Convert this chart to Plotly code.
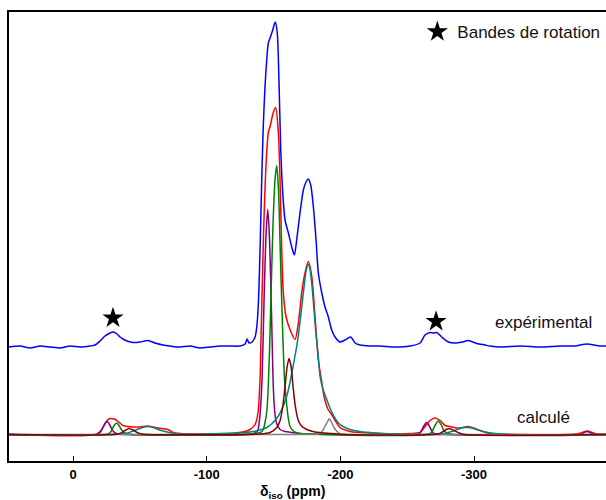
import plotly.graph_objects as go

# ---------------- data (δiso in ppm, intensity in arbitrary units) ----------------
exp_ppm = [47.9, 39.6, 32.2, 24.7, 17.2, 9.7, 2.2, -5.2, -12.7, -16.5, -20.2, -23.9, -27.7, -29.9, -32.9, -35.2,
           -37.4, -40.4, -44.9, -50.1, -56.1, -61.3, -67.3, -72.6, -80.0, -87.5, -95.0, -102.5, -110.0, -117.5,
           -124.9, -128.7, -130.2, -131.7, -133.9, -136.2, -137.6, -138.7, -139.9, -141.1, -142.3, -143.6, -144.9,
           -146.1, -147.4, -149.4, -151.3, -152.8, -154.1, -155.4, -156.9, -158.6, -161.1, -163.6, -165.6, -167.3,
           -169.8, -172.3, -174.3, -176.0, -177.8, -179.8, -181.8, -183.5, -186.1, -188.5, -191.0, -193.5, -196.0,
           -199.7, -203.5, -207.7, -211.0, -214.7, -222.2, -229.7, -240.9, -252.1, -259.6, -263.3, -267.1, -269.3,
           -272.1, -275.8, -280.8, -285.8, -291.1, -295.8, -302.0, -308.2, -312.0, -319.4, -334.4, -349.4, -364.3,
           -375.5, -384.5, -394.2, -398.7]
exp_int = [0, 1, -1, 1, 0, -1, 1, 0, 1, 2, 6, 11, 14, 15, 13, 10,
           8, 6, 4.5, 5, 6.5, 4, 2, 1, 0, 1, -1, 0, 1, 1,
           1, 3, 8, 4, 5, 10, 22, 45, 97, 164, 220, 260, 287,
           304, 309, 317, 325, 314, 264, 197, 154, 127, 114, 100, 92, 107,
           134, 157, 165, 168, 162, 140, 107, 74, 54, 40, 30, 17, 10,
           5, 7, 10, 4, 2, 1, 1, 0, 1, 4, 12, 14.5, 14,
           14.5, 10, 5, 4, 5, 6.5, 3.5, 2, 1, 0, 1, 0, 1,
           1, 3, 1, 1]

calc_ppm = [47.9, -16.5, -20.2, -23.2, -25.4, -27.7, -30.7, -33.7, -37.4, -41.1, -44.9, -50.1, -56.1, -61.3,
            -66.6, -71.1, -74.8, -80.0, -95.0, -117.5, -128.7, -132.4, -136.2, -138.4, -139.9, -140.6, -141.4,
            -142.5, -143.6, -144.8, -146.1, -147.4, -149.8, -151.6, -153.6, -154.9, -156.1, -157.3, -159.3, -162.3,
            -166.1, -168.6, -171.1, -173.6, -176.0, -178.6, -181.0, -183.5, -186.1, -187.8, -190.8, -193.0, -196.0,
            -199.7, -207.2, -214.7, -229.7, -252.1, -259.6, -263.3, -267.1, -270.8, -274.6, -278.3, -282.0, -287.3,
            -291.8, -295.5, -300.7, -304.5, -312.0, -334.4, -375.5, -380.8, -384.5, -388.3, -392.0, -398.7]
calc_int = [0, 0, 3, 9, 14, 16, 15.5, 13, 9, 8, 7.5, 7.5, 8.5, 7,
            6, 5, 2, 1, 0.5, 1, 3, 5, 10, 22, 55, 95, 140,
            200, 245, 280, 302, 308, 322, 327, 302, 252, 185, 142, 118, 105,
            95, 112, 142, 162, 173, 158, 118, 75, 52, 38, 25, 21, 14,
            7, 3, 2, 1, 1, 2, 8, 14, 16.5, 14, 9, 8, 6.5,
            7, 8, 6, 4, 1, 0, 0.5, 2, 3.5, 2, 0.5, 0]

purple_ppm = [47.9, -18.0, -20.2, -22.4, -23.9, -25.7, -27.3, -29.2, -31.4, -35.2, -95.0, -132.4, -136.9, -138.4,
              -139.9, -141.4, -142.9, -144.4, -145.7, -147.0, -148.5, -149.9, -151.1, -152.6, -154.9, -158.6,
              -163.8, -169.8, -184.8, -199.7, -258.1, -260.3, -262.6, -264.6, -266.3, -268.6, -270.8, -278.3,
              -379.3, -382.3, -384.5, -386.8, -389.8, -398.7]
purple_int = [0, 0, 2, 7, 11, 13, 10, 5, 1.5, 0.3, 0, 0.5, 2, 5,
              20, 55, 135, 200, 225, 195, 120, 45, 20, 10, 5, 3,
              2, 1, 0.3, 0, 0.3, 3, 9, 12, 9, 3, 0.5, 0,
              0, 2, 3, 2, 0, 0]

green_ppm = [47.9, -26.2, -28.4, -30.7, -32.7, -34.4, -36.7, -39.6, -44.1, -130.0, -141.4, -143.6, -145.1, -146.9,
             -148.1, -149.6, -151.1, -152.4, -153.7, -155.2, -156.9, -158.2, -159.8, -161.2, -162.3, -165.3, -169.8,
             -184.8, -266.3, -268.6, -270.8, -273.1, -275.3, -277.5, -280.5, -285.8, -398.7]
green_int = [0, 0.5, 3, 9, 11.5, 9, 4, 1, 0, 0, 3, 12, 25, 80,
             140, 210, 255, 269, 245, 175, 100, 55, 30, 15, 8, 3, 1,
             0, 0.5, 3, 9, 13.5, 10, 4, 1, 0, 0]

maroon_ppm = [47.9, -31.4, -35.2, -38.9, -41.9, -44.9, -47.9, -51.6, -139.9, -147.4, -152.4, -154.9, -157.1,
              -158.6, -160.1, -161.6, -163.1, -164.6, -166.1, -168.3, -170.6, -174.8, -181.0, -192.3, -203.5,
              -273.1, -276.8, -279.8, -282.0, -285.0, -288.8, -293.3, -398.7]
maroon_int = [0, 0, 1, 4, 6, 4.5, 2, 0.5, 0.5, 2, 7, 14, 30,
              48, 67, 76, 68, 48, 30, 15, 9, 5, 2.5, 1, 0,
              0.5, 3, 5.5, 5.7, 4, 1.5, 0, 0]

teal_ppm = [47.9, -38.9, -44.9, -50.1, -53.1, -56.1, -59.1, -63.6, -68.8, -76.3, -87.5, -110.0, -124.9, -132.4,
            -138.4, -144.9, -148.9, -153.4, -157.1, -159.8, -162.3, -164.6, -167.3, -169.4, -171.3, -173.2, -174.5,
            -176.0, -177.3, -178.8, -180.3, -181.8, -183.3, -184.8, -187.0, -189.8, -192.3, -194.5, -197.1, -199.7,
            -203.5, -207.2, -214.7, -225.9, -240.9, -278.3, -284.3, -289.5, -292.5, -295.5, -298.5, -303.0, -308.2,
            -315.7, -326.9, -398.7]
teal_int = [0, 1, 3.5, 6, 7.5, 8, 7.5, 5, 3, 1, 0, 1, 1.5, 2.5,
            4, 7, 11, 18, 28, 38, 52, 68, 88, 108, 130, 152, 165,
            170, 165, 148, 124, 100, 80, 58, 45, 35, 26, 20, 14, 10,
            7, 5, 3, 1.5, 0.5, 1, 3.5, 6, 7, 7, 6.5, 4.5, 2.5,
            1, 0, 0]

gray_ppm = [47.9, -169.8, -183.3, -186.3, -188.5, -190.4, -191.7, -193.3, -195.2, -197.5, -200.4, -214.7, -398.7]
gray_int = [0, 0, 0.5, 3, 8, 13, 15.7, 12.5, 7, 3, 0.5, 0, 0]

star_ppm = [-29.9, -271.6]
star_int = [29, 25.5]

tick_vals = [0, -100, -200, -300]
tick_text = ["0", "-100", "-200", "-300"]

# ---------------- figure ----------------
EXP_OFFSET = 114
CALC_OFFSET = 26.5
FONT = "Liberation Sans, Arial, sans-serif"

fig = go.Figure()


def add_curve(x, y, color, offset):
    fig.add_trace(go.Scatter(
        x=x, y=[v + offset for v in y], mode="lines",
        line=dict(color=color, width=1.5, shape="spline", smoothing=0.7),
        showlegend=False, hoverinfo="skip"))


add_curve(exp_ppm, exp_int, "#0000ff", EXP_OFFSET)
add_curve(calc_ppm, calc_int, "#ff0000", CALC_OFFSET)
add_curve(purple_ppm, purple_int, "#800080", CALC_OFFSET)
add_curve(green_ppm, green_int, "#008000", CALC_OFFSET)
add_curve(teal_ppm, teal_int, "#008080", CALC_OFFSET)
add_curve(gray_ppm, gray_int, "#808080", CALC_OFFSET)
add_curve(maroon_ppm, maroon_int, "#800000", CALC_OFFSET)

fig.add_trace(go.Scatter(
    x=star_ppm, y=[v + EXP_OFFSET for v in star_int], mode="markers",
    marker=dict(symbol="star", size=16, color="black", line=dict(width=0)),
    name="Bandes de rotation", showlegend=True, hoverinfo="skip"))

fig.update_layout(
    width=606, height=500,
    margin=dict(l=9, r=0, t=12, b=39),
    paper_bgcolor="white", plot_bgcolor="white",
    font=dict(family=FONT, color="#111111"),
    showlegend=True,
    legend=dict(x=0.684, y=0.995, xanchor="left", yanchor="top",
                bgcolor="rgba(0,0,0,0)", borderwidth=0,
                font=dict(family=FONT, size=17, color="#111111"), itemwidth=30),
    xaxis=dict(range=[47.9, -398.7], showgrid=False, zeroline=False,
               showline=True, linecolor="black", linewidth=2, mirror=True,
               ticks="inside", ticklen=5, tickwidth=1, tickcolor="black",
               tickvals=tick_vals, ticktext=tick_text,
               tickfont=dict(family=FONT, size=13, color="black", weight="bold")),
    yaxis=dict(range=[0, 449], showgrid=False, zeroline=False,
               showline=True, linecolor="black", linewidth=2,
               showticklabels=False, ticks=""),
    annotations=[
        dict(text="expérimental", xref="paper", yref="paper", x=(543 - 9) / 597, y=(461 - 322) / 449,
             xanchor="center", yanchor="middle", showarrow=False,
             font=dict(family=FONT, size=17, color="#111111")),
        dict(text="calculé", xref="paper", yref="paper", x=(543.5 - 9) / 597, y=(461 - 417) / 449,
             xanchor="center", yanchor="middle", showarrow=False,
             font=dict(family=FONT, size=17, color="#111111")),
        dict(text="<b>δ<sub>iso</sub> (ppm)</b>", xref="paper", yref="paper", x=(292 - 9) / 597,
             y=(461 - 492) / 449, xanchor="center", yanchor="middle", showarrow=False,
             font=dict(family=FONT, size=14, color="black")),
    ],
)

# the page has no body margin so the 606x500 figure fills the window exactly
fig.write_html("out.html", config={"displayModeBar": False},
               post_script="document.body.style.margin='0';document.body.style.overflow='hidden';")
